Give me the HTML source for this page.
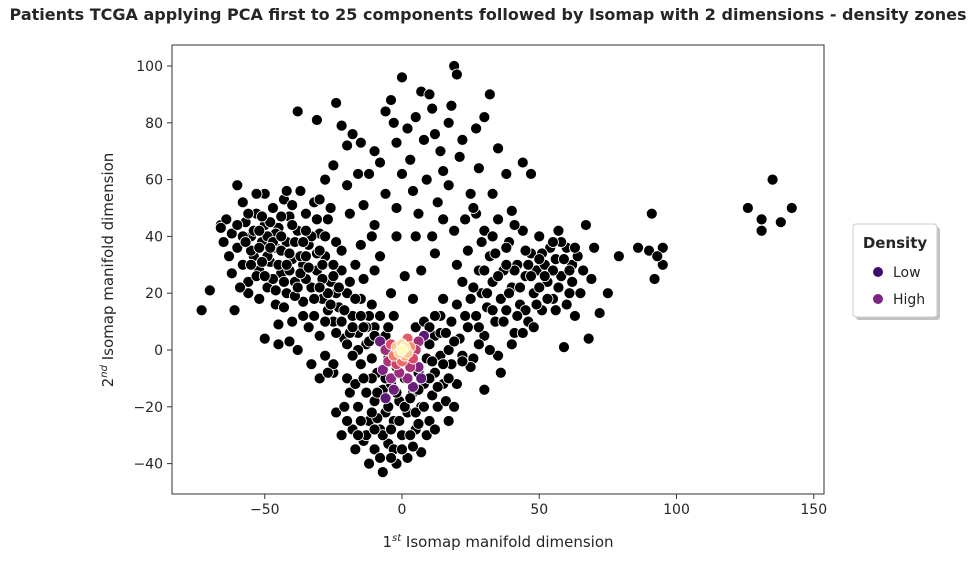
<!DOCTYPE html>
<html><head><meta charset="utf-8"><style>
body{margin:0;background:#fff;font-family:"DejaVu Sans","Liberation Sans",sans-serif;}
svg text{font-family:"DejaVu Sans","Liberation Sans",sans-serif;}
</style></head><body>
<svg id="chart" width="975" height="559">
<text x="488" y="20" text-anchor="middle" font-size="16" font-weight="bold" fill="#262626">Patients TCGA applying PCA first to 25 components followed by Isomap with 2 dimensions - density zones</text>
<g id="marks"></g>
<rect x="172" y="45" width="652" height="449" fill="none" stroke="#333" stroke-width="1"/>
<g id="axes"></g>
<text x="498" y="547" text-anchor="middle" font-size="15" fill="#262626">1<tspan font-size="10" dy="-6" font-style="italic">st</tspan><tspan dy="6"> Isomap manifold dimension</tspan></text>
<text transform="translate(113,270) rotate(-90)" text-anchor="middle" font-size="15" fill="#262626">2<tspan font-size="10" dy="-6" font-style="italic">nd</tspan><tspan dy="6"> Isomap manifold dimension</tspan></text>
<g>
<rect x="856" y="227" width="84" height="93" rx="3" fill="#999" opacity="0.6"/>
<rect x="853" y="224" width="84" height="93" rx="3" fill="#fff" stroke="#ccc"/>
<text x="895" y="248" text-anchor="middle" font-size="15" font-weight="bold" fill="#262626">Density</text>
<circle cx="878" cy="272" r="5" fill="#3b0f70"/>
<text x="893" y="277" font-size="14" fill="#262626">Low</text>
<circle cx="878" cy="299" r="5" fill="#7e2482"/>
<text x="893" y="304" font-size="14" fill="#262626">High</text>
</g>
</svg>
<script>
const xTicks=[-50,0,50,100,150];
const yTicks=[-40,-20,0,20,40,60,80,100];
const leftArm=[[-73,14],[-70,21],[-66,44],[-64,46],[-62,41],[-61,14],[-60,58],[-60,36],[-58,52],[-58,30],[-57,45],[-56,24],[-55,40],[-54,33],[-53,48],[-52,18],[-52,28],[-51,38],[-50,55],[-50,44],[-49,22],[-48,31],[-47,50],[-46,36],[-46,16],[-45,43],[-44,27],[-43,53],[-42,20],[-42,38],[-41,47],[-40,32],[-40,10],[-39,24],[-38,42],[-37,56],[-36,17],[-36,30],[-35,48],[-34,37],[-33,22],[-32,12],[-32,52],[-31,28],[-30,41],[-30,5],[-29,18],[-28,33],[-27,46],[-26,24],[-25,10],[-24,38],[-23,15],[-22,28],[-21,4],[-20,20],[-19,48],[-18,12],[-17,30],[-16,6],[-15,18],[-14,25],[-13,2],[-12,12],[-11,40],[-10,8],[-45,2],[-50,4],[-38,0],[-33,-5],[-28,-2],[-55,35],[-62,27],[-58,40],[-48,45],[-44,35],[-40,44],[-52,36],[-47,25],[-35,25],[-25,30],[-65,38],[-53,55],[-41,28],[-37,33],[-31,46],[-43,15],[-56,20],[-66,43],[-54,42],[-49,33],[-39,19],[-34,8],[-29,25],[-24,20],[-19,6],[-27,14],[-22,35],[-46,41],[-51,47],[-42,56],
[-57,38],[-55,30],[-53,26],[-51,31],[-49,40],[-47,38],[-45,30],[-43,24],[-41,34],[-39,38],[-37,27],[-35,33],[-33,40],[-31,34],[-29,30],[-27,20],[-25,26],[-23,22],[-21,14],[-19,24],[-17,18],[-15,12],[-13,8],[-11,16],[-9,4],[-60,44],[-56,48],[-52,42],[-48,36],[-44,40],[-42,30],[-38,22],[-36,38],[-34,29],[-32,18],[-30,22],[-28,10],[-26,16],[-24,6],[-22,10],[-20,2],[-18,8],[-16,0],[-59,22],[-63,33],[-50,26],[-46,21],[-44,47],[-40,51],[-35,42],[-30,35],[-28,40],[-45,9],[-41,3],[-36,12],[-25,-8],[-30,-10]];
const centerV=[[-20,-10],[-18,-28],[-16,-20],[-15,-5],[-14,-32],[-13,-15],[-12,-25],[-11,-3],[-10,-35],[-10,-18],[-9,-8],[-8,-28],[-7,-43],[-7,-14],[-6,-22],[-5,-3],[-5,-33],[-4,-12],[-3,-25],[-2,-40],[-2,-6],[-1,-18],[0,-30],[1,-10],[2,-22],[2,-38],[3,-5],[4,-15],[5,-28],[6,-8],[7,-36],[7,-20],[8,-12],[9,-3],[10,-25],[11,-16],[12,-8],[13,-20],[14,-2],[15,-12],[16,-18],[18,-5],[20,-12],[22,-2],[-22,-30],[-24,-22],[-19,-15],[-17,-35],[-12,-40],[-8,-38],[-3,-35],[3,-30],[9,-30],[12,-28],[-25,-5],[-27,-8],[-18,-2],[-6,5],[5,8],[-8,12],[8,10],[-14,8],[12,5],[-3,12],[17,-25],[19,-20],[-21,-20],[-1,-2],[-9,-24],
[-17,-12],[-15,-25],[-13,-30],[-11,-10],[-9,-15],[-7,-30],[-5,-20],[-4,-28],[-2,-15],[-1,-25],[1,-20],[3,-17],[5,-22],[6,-14],[8,-20],[10,-10],[11,-4],[13,-13],[-10,-28],[-6,-10],[0,-35],[4,-34],[-4,-38],[-11,-22],[-14,-10],[-16,-30],[-20,-25],[15,-5],[17,-10],[-12,3],[-10,5],[10,8],[14,12],[-5,8],[6,-26]];
const rightArm=[[10,2],[12,12],[14,6],[15,18],[17,0],[18,10],[20,16],[21,4],[22,24],[24,8],[25,18],[26,-3],[27,12],[28,28],[29,20],[30,5],[31,15],[32,33],[33,24],[34,10],[35,-2],[36,18],[37,28],[38,14],[39,38],[40,22],[41,6],[42,30],[43,16],[44,42],[45,26],[46,10],[47,34],[48,20],[49,28],[50,40],[51,14],[52,30],[53,24],[54,36],[55,18],[56,32],[57,42],[58,26],[59,1],[60,36],[61,20],[62,30],[63,12],[64,33],[66,28],[67,44],[68,4],[69,25],[70,36],[72,13],[75,20],[27,48],[30,42],[35,46],[38,36],[41,44],[24,35],[20,30],[33,40],[45,35],[55,28],[50,22],[58,38],[62,24],[36,-8],[30,-14],[25,-6],[40,2],[48,8],
[16,6],[19,3],[23,12],[26,22],[28,8],[31,20],[33,14],[35,26],[37,10],[39,20],[41,28],[43,22],[45,14],[47,26],[49,16],[51,34],[53,18],[55,38],[57,22],[59,32],[61,28],[63,36],[65,20],[22,-4],[28,2],[32,0],[42,12],[46,30],[52,26],[56,14],[44,6],[38,30],[34,34],[30,28],[50,32],[60,16]];
const upper=[[-38,84],[-31,81],[-24,87],[-22,79],[-18,76],[-15,73],[-12,62],[-10,70],[-8,66],[-6,84],[-4,88],[-3,80],[-2,73],[0,96],[2,78],[3,67],[5,82],[7,91],[8,74],[10,90],[11,85],[12,76],[14,70],[15,63],[17,80],[18,86],[19,100],[20,97],[21,68],[22,74],[25,55],[27,78],[28,64],[30,82],[32,90],[33,55],[35,71],[38,62],[40,49],[44,66],[47,62],[-28,60],[-20,58],[-14,51],[-10,44],[-6,55],[-2,50],[0,62],[4,56],[6,48],[9,60],[11,40],[13,52],[15,46],[17,58],[19,42],[23,46],[26,50],[29,38],[-20,72],[-25,65],[-30,53],[-16,62],[-2,40],[5,40],[12,34],[-8,33],[-15,37],[7,28],[1,26],[-4,20],[4,18],[-10,28],[-26,50]];
const farRight=[[79,33],[86,36],[90,35],[91,48],[92,25],[95,36],[95,30],[93,33],[126,50],[131,46],[131,42],[135,60],[138,45],[142,50]];
const densityX=[8,-6,-8,4,-3,7,-7,6,2,-4,-6,-1,3,6,-5,5,-2,2,-4,4,0,-3,3,-2,1,2,-1,0,1,0];
const densityY=[5,-17,3,-13,-14,-10,-7,-6,-10,-10,0,-8,-6,3,-4,0,-5,4,2,-3,-4,-2,1,1,-2,-1,-1,2,1,0];
const densityV=[0.1,0.1,0.15,0.15,0.15,0.12,0.2,0.2,0.25,0.25,0.3,0.3,0.35,0.3,0.35,0.4,0.45,0.55,0.5,0.5,0.6,0.65,0.7,0.85,0.8,0.85,0.9,0.9,0.95,1];

const X0=172,X1=824,Y0=45,Y1=494;
function sx(v){return 402+(v-0)*2.745;}
function sy(v){return 350-(v-0)*2.84;}
function magma(t){
  const st=[[0,[59,15,112]],[0.25,[140,41,129]],[0.5,[222,73,104]],[0.75,[254,159,109]],[1,[252,253,191]]];
  for(let i=1;i<st.length;i++){if(t<=st[i][0]){const a=st[i-1],b=st[i];const f=(t-a[0])/(b[0]-a[0]);
    return 'rgb('+a[1].map((c,k)=>Math.round(c+(b[1][k]-c)*f)).join(',')+')';}}
  return 'rgb(252,253,191)';
}
const NS='http://www.w3.org/2000/svg';
const marks=document.getElementById('marks');
const axes=document.getElementById('axes');
function dot(x,y,fill,name){
  const c=document.createElementNS(NS,'circle');
  c.setAttribute('cx',sx(x));c.setAttribute('cy',sy(y));c.setAttribute('r',5.5);
  c.setAttribute('fill',fill);c.setAttribute('stroke','#fff');c.setAttribute('stroke-width','0.8');
  
  
  marks.appendChild(c);
}
[leftArm,centerV,rightArm,upper,farRight].forEach(arr=>arr.forEach(p=>dot(p[0],p[1],'#000','patient-point')));
for(let i=0;i<densityV.length;i++){dot(densityX[i],densityY[i],magma(densityV[i]),'density-point');}
xTicks.forEach(v=>{
  const l=document.createElementNS(NS,'line');
  l.setAttribute('x1',sx(v));l.setAttribute('x2',sx(v));l.setAttribute('y1',Y1);l.setAttribute('y2',Y1+5);l.setAttribute('stroke','#333');
  
  
  axes.appendChild(l);
  const t=document.createElementNS(NS,'text');
  t.setAttribute('x',sx(v));t.setAttribute('y',Y1+20);t.setAttribute('text-anchor','middle');t.setAttribute('font-size','14');t.setAttribute('fill','#262626');
  t.textContent=v<0?'\u2212'+Math.abs(v):String(v);
  
  
  axes.appendChild(t);
});
yTicks.forEach(v=>{
  const l=document.createElementNS(NS,'line');
  l.setAttribute('x1',X0-5);l.setAttribute('x2',X0);l.setAttribute('y1',sy(v));l.setAttribute('y2',sy(v));l.setAttribute('stroke','#333');
  
  
  axes.appendChild(l);
  const t=document.createElementNS(NS,'text');
  t.setAttribute('x',X0-9);t.setAttribute('y',sy(v)+5);t.setAttribute('text-anchor','end');t.setAttribute('font-size','14');t.setAttribute('fill','#262626');
  t.textContent=v<0?'\u2212'+Math.abs(v):String(v);
  
  
  axes.appendChild(t);
});
</script>
</body></html>
